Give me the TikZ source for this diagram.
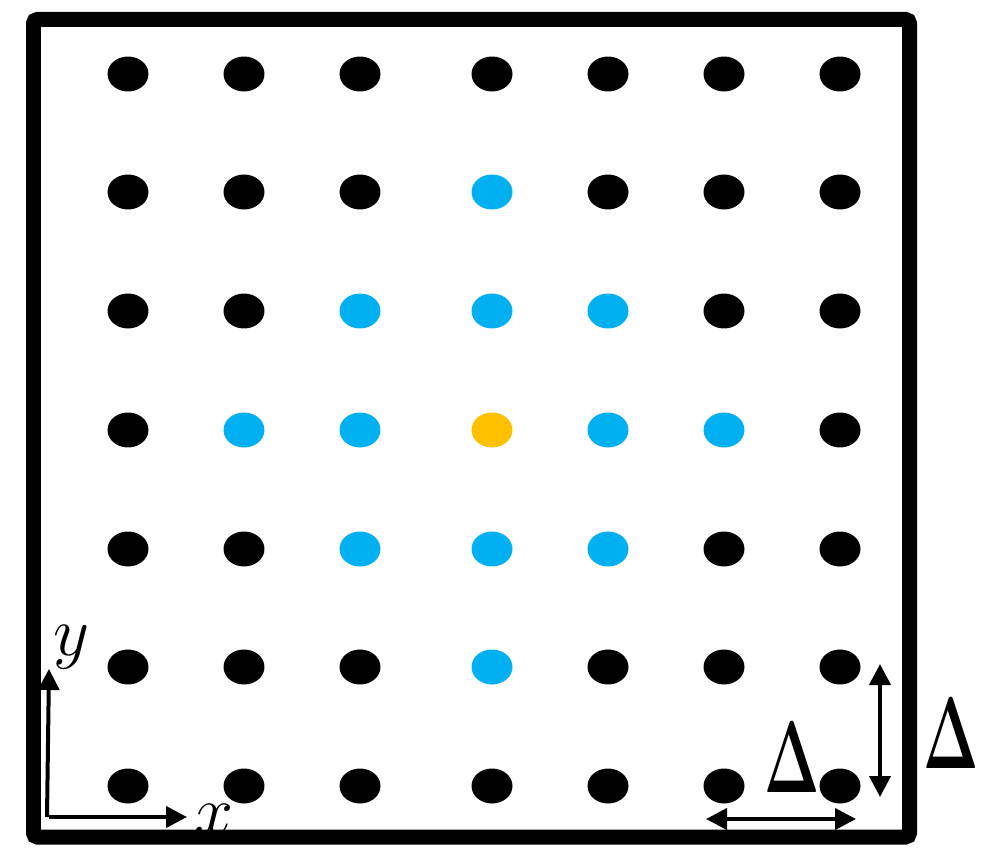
\documentclass[tikz,border=0pt]{standalone}
\usepackage{tikz}
\usetikzlibrary{arrows.meta,shapes.geometric}

\definecolor{siteblue}{HTML}{00B0F0}
\definecolor{siteorange}{HTML}{FFC000}

\tikzset{
  site/.style={ellipse,fill=black,inner sep=0pt,minimum width=0.82cm,minimum height=0.70cm},
  axis/.style={line width=0.08cm,-{Triangle[length=0.42cm,width=0.42cm]}},
  spacing/.style={line width=0.08cm,{Triangle[length=0.42cm,width=0.42cm]}-{Triangle[length=0.42cm,width=0.42cm]}},
  biglabel/.style={inner sep=0pt,font=\Huge,xscale=1.35,yscale=2.33},
  axlabel/.style={inner sep=0pt,font=\Huge,scale=1.6}
}

\begin{document}
\begin{tikzpicture}[x=0.02cm,y=-0.02cm]
  \useasboundingbox (0,0) rectangle (981,848);
  % box
  \draw[line width=0.3cm,rounded corners=0.08cm] (33.5,19.5) rectangle (909.5,837);
  % lattice
  \foreach \px [count=\i] in {128,244,360,492,608,724,840}{
    \foreach \py [count=\j] in {74,192,311,430,549,667,786}{
      \pgfmathtruncatemacro{\dist}{abs(\i-4)+abs(\j-4)}
      \ifnum\dist=0
        \node[site,fill=siteorange] (s-\i-\j) at (\px,\py) {};
      \else\ifnum\dist<3
        \node[site,fill=siteblue] (s-\i-\j) at (\px,\py) {};
      \else
        \node[site] (s-\i-\j) at (\px,\py) {};
      \fi\fi
    }
  }
  % axes
  \coordinate (o) at (49,817);
  \coordinate (xend) at (187,817);
  \coordinate (yend) at (49,669);
  \draw[axis] (o) -- (xend);
  \draw[axis] ([xshift=-0.04cm]o) -- (yend);
  \node[axlabel] (xlab) at (214,819) {$x$};
  \node[axlabel] (ylab) at (71,647) {$y$};
  % spacing arrows
  \coordinate (hl) at (706,819);
  \coordinate (hr) at (856,819);
  \coordinate (vt) at (880,664);
  \coordinate (vb) at (880,797);
  \draw[spacing] (hl) -- (hr);
  \draw[spacing] (vt) -- (vb);
  \node[biglabel] (dh) at (792,758) {$\mathbf{\Delta}$};
  \node[biglabel] (dv) at (951,734) {$\mathbf{\Delta}$};
\end{tikzpicture}
\end{document}
